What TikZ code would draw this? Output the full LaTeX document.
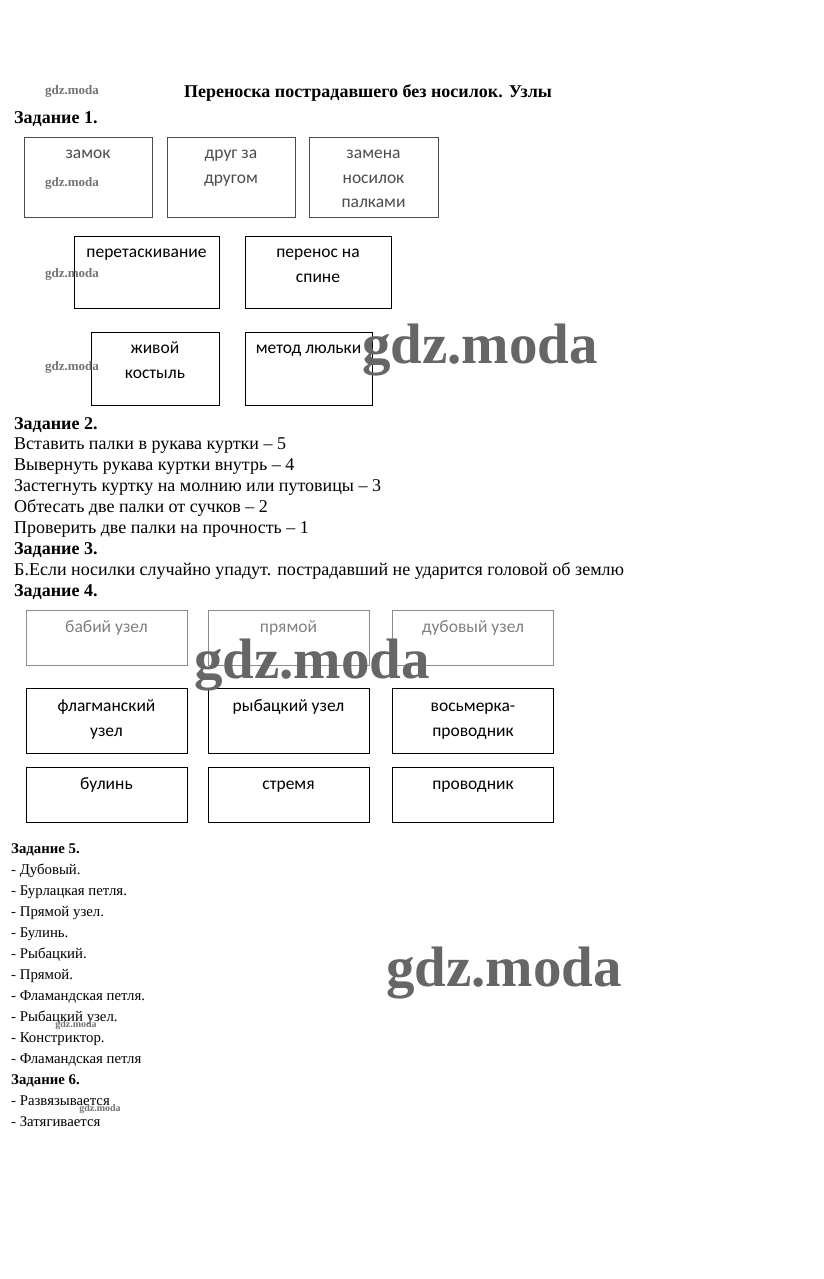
\documentclass[tikz,border=0pt]{standalone}
\usepackage{fontspec}
\setmainfont{Liberation Serif}
\newfontfamily\boxfont{Carlito}
\newcommand{\bodysize}{\fontsize{18}{21}\selectfont}
\newcommand{\smallbody}{\fontsize{14.8}{21}\selectfont}
\begin{document}
\begin{tikzpicture}[x=1pt,y=-1pt,
    txt/.style={anchor=base west,inner sep=0pt,font=\bodysize},
    head/.style={txt,font=\bodysize\bfseries},
    stxt/.style={anchor=base west,inner sep=0pt,font=\smallbody},
    shead/.style={stxt,font=\smallbody\bfseries},
    box/.style={draw,line width=0.9pt,inner sep=0pt},
    faint/.style={draw=black!45},
    boxtxt/.style={anchor=north,inner sep=0pt,align=center,font=\boxfont\fontsize{17.5}{24.5}\selectfont},
    wmark/.style={inner sep=0pt,text=black!55,font=\fontsize{13}{13}\selectfont\bfseries},
    bigwmark/.style={inner sep=0pt,text=black!60,font=\fontsize{57}{57}\selectfont\bfseries}]
    \useasboundingbox[fill=white](0,0)rectangle(823,1279);
    % title
    \node[head,anchor=base](title)at(368,98){Переноска пострадавшего без носилок. Узлы};
    % task 1
    \node[head](t1)at(14,124){Задание 1.};
    \node[box,draw=black!70,minimum width=128,minimum height=80](a1)at(88,177){};
    \node[box,draw=black!70,minimum width=128,minimum height=80](a2)at(231,177){};
    \node[box,draw=black!70,minimum width=129,minimum height=80](a3)at(373.5,177){};
    \node[boxtxt,text=black!70]at([yshift=-5]a1.north){\strut замок};
    \node[boxtxt,text=black!70]at([yshift=-5]a2.north){\strut друг за\\другом};
    \node[boxtxt,text=black!70]at([yshift=-5]a3.north){\strut замена\\носилок\\палками};
    \node[box,minimum width=145,minimum height=72](b1)at(146.5,272){};
    \node[box,minimum width=146,minimum height=72](b2)at(318,272){};
    \node[boxtxt]at([yshift=-5]b1.north){\strut перетаскивание};
    \node[boxtxt]at([yshift=-5]b2.north){\strut перенос на\\спине};
    \node[box,minimum width=128,minimum height=73](c1)at(155,368.5){};
    \node[box,minimum width=127,minimum height=73](c2)at(308.5,368.5){};
    \node[boxtxt]at([yshift=-5]c1.north){\strut живой\\костыль};
    \node[boxtxt]at([yshift=-5]c2.north){\strut метод люльки};
    % task 2, 3
    \node[head](t2)at(14,429){Задание 2.};
    \node[txt]at(14,449){Вставить палки в рукава куртки – 5};
    \node[txt]at(14,470){Вывернуть рукава куртки внутрь – 4};
    \node[txt]at(14,491){Застегнуть куртку на молнию или путовицы – 3};
    \node[txt]at(14,512){Обтесать две палки от сучков – 2};
    \node[txt]at(14,533){Проверить две палки на прочность – 1};
    \node[head](t3)at(14,554){Задание 3.};
    \node[txt]at(14,575){Б.Если носилки случайно упадут. пострадавший не ударится головой об землю};
    % task 4
    \node[head](t4)at(14,596){Задание 4.};
    \foreach \x/\n in {106.5/1,288.5/2,473/3}{
        \node[box,faint,minimum width=161,minimum height=55](d\n)at(\x,637.5){};
        \node[box,minimum width=161,minimum height=65](e\n)at(\x,720.5){};
        \node[box,minimum width=161,minimum height=55](f\n)at(\x,794.5){};
    }
    \node[boxtxt,text=black!50]at([yshift=-6]d1.north){\strut бабий узел};
    \node[boxtxt,text=black!50]at([yshift=-6]d2.north){\strut прямой};
    \node[boxtxt,text=black!50]at([yshift=-6]d3.north){\strut дубовый узел};
    \node[boxtxt]at([yshift=-7]e1.north){\strut флагманский\\узел};
    \node[boxtxt]at([yshift=-7]e2.north){\strut рыбацкий узел};
    \node[boxtxt]at([yshift=-7]e3.north){\strut восьмерка-\\проводник};
    \node[boxtxt]at([yshift=-6]f1.north){\strut булинь};
    \node[boxtxt]at([yshift=-6]f2.north){\strut стремя};
    \node[boxtxt]at([yshift=-6]f3.north){\strut проводник};
    % task 5, 6
    \node[shead](t5)at(11,853){Задание 5.};
    \foreach \s [count=\i] in {Дубовый.,Бурлацкая петля.,Прямой узел.,Булинь.,Рыбацкий.,Прямой.,Фламандская петля.,Рыбацкий узел.,Констриктор.,Фламандская петля}
        \node[stxt]at(11,853+21*\i){- \s};
    \node[shead](t6)at(11,1084){Задание 6.};
    \node[stxt]at(11,1105){- Развязывается};
    \node[stxt]at(11,1126){- Затягивается};
    % watermarks
    \foreach \y [count=\i] in {91,183,274,367}
        \node[wmark](w\i)at(72,\y){gdz.moda};
    \node[wmark,font=\fontsize{10}{10}\selectfont\bfseries](w5)at(76,1025){gdz.moda};
    \node[wmark,font=\fontsize{10}{10}\selectfont\bfseries](w6)at(100,1109){gdz.moda};
    \node[bigwmark](m1)at(480,350){gdz.moda};
    \node[bigwmark](m2)at(312,665){gdz.moda};
    \node[bigwmark](m3)at(504,973){gdz.moda};
\end{tikzpicture}
\end{document}
